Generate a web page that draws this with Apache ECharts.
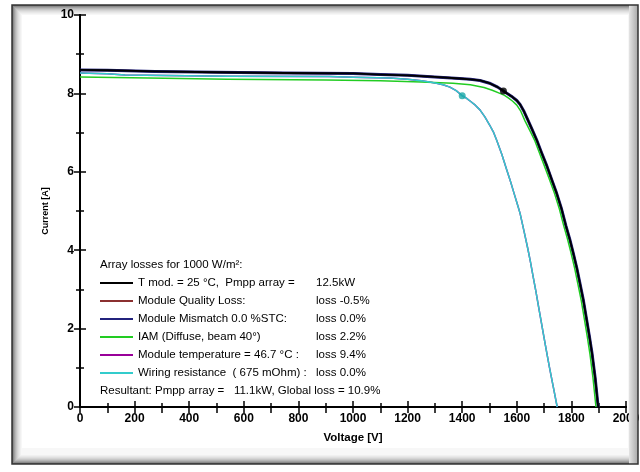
<!DOCTYPE html>
<html>
<head>
<meta charset="utf-8">
<script src="https://cdn.jsdelivr.net/npm/echarts@6/dist/echarts.min.js"></script>
<style>
html, body { margin: 0; padding: 0; background: #fff; }
#picture { width: 640px; height: 472px; }
</style>
</head>
<body>
<div id="picture"></div>
<script>
// I-V curves: [voltage V, current A]
var tmodCurve = [[0,8.60],[100,8.59],[275,8.56],[500,8.54],[750,8.52],[1000,8.51],[1100,8.48],[1200,8.46],[1300,8.42],[1390,8.38],[1430,8.36],[1465,8.33],[1500,8.26],[1530,8.16],[1551,8.06],[1580,7.93],[1600,7.82],[1612,7.72],[1625,7.56],[1640,7.33],[1656,7.08],[1673,6.81],[1690,6.50],[1710,6.15],[1728,5.80],[1746,5.45],[1764,5.05],[1780,4.62],[1794,4.28],[1807,3.92],[1820,3.54],[1830,3.20],[1844,2.72],[1856,2.22],[1866,1.80],[1876,1.35],[1887,0.75],[1898,0]];
var qualityCurve = tmodCurve;
var mismatchCurve = tmodCurve;
var iamCurve = [[0,8.42],[250,8.39],[540,8.36],[900,8.34],[1100,8.32],[1250,8.29],[1366,8.26],[1430,8.22],[1480,8.15],[1510,8.08],[1538,8.00],[1555,7.95],[1570,7.88],[1585,7.80],[1600,7.70],[1615,7.54],[1630,7.30],[1648,7.05],[1665,6.81],[1682,6.50],[1700,6.17],[1720,5.80],[1738,5.45],[1756,5.05],[1772,4.62],[1786,4.28],[1799,3.92],[1812,3.54],[1822,3.20],[1836,2.72],[1848,2.22],[1858,1.80],[1868,1.35],[1879,0.75],[1890,0]];
var wiringCurve = [[0,8.52],[100,8.50],[165,8.47],[540,8.44],[914,8.43],[1000,8.41],[1135,8.39],[1200,8.36],[1250,8.32],[1280,8.29],[1306,8.26],[1330,8.22],[1355,8.16],[1378,8.07],[1400,7.94],[1415,7.88],[1430,7.80],[1448,7.70],[1465,7.58],[1483,7.40],[1500,7.20],[1514,7.02],[1526,6.81],[1545,6.45],[1563,6.05],[1577,5.75],[1590,5.45],[1601,5.20],[1612,4.94],[1626,4.50],[1640,4.05],[1650,3.70],[1660,3.32],[1670,2.95],[1680,2.55],[1697,1.88],[1708,1.45],[1720,1.00],[1734,0.50],[1748,0]];
var tempCurve = wiringCurve;
var mppStc = [[1551,8.06]];
var mppWiring = [[1400,7.94]];

var seriesNames = ['T mod. = 25 °C,  Pmpp array =', 'Module Quality Loss:', 'Module Mismatch 0.0 %STC:', 'IAM (Diffuse, beam 40°)', 'Module temperature = 46.7 °C :', 'Wiring resistance  ( 675 mOhm) :'];
var lossLabels = ['12.5kW', 'loss -0.5%', 'loss 0.0%', 'loss 2.2%', 'loss 9.4%', 'loss 0.0%'];
var seriesColors = ['#000000', '#8b3030', '#23237d', '#22cc22', '#990099', '#33cccc'];
var headerText = 'Array losses for 1000 W/m²:';
var resultText = 'Resultant: Pmpp array =   11.1kW, Global loss = 10.9%';

var font = '"Liberation Sans", Arial, sans-serif';

function lineSeries(i, data, width, z) {
    return {
        name: seriesNames[i],
        type: 'line',
        data: data,
        symbol: 'none',
        smooth: false,
        z: z,
        itemStyle: { color: seriesColors[i] },
        lineStyle: { color: seriesColors[i], width: width, join: 'round' }
    };
}

function frameRects() {
    var shades = ['#6a6a6a', '#8a8a8a', '#a2a2a2', '#b6b6b6', '#c6c6c6', '#d4d4d4', '#dfdfdf', '#e8e8e8', '#f0f0f0', '#f7f7f7'];
    var els = [];
    for (var i = 0; i < shades.length; i++) {
        els.push({
            type: 'rect', z: -20 + i, silent: true,
            shape: { x: 12 + i, y: 5 + i, width: 626 - 2 * i, height: 459 - 2 * i },
            style: { fill: shades[i] }
        });
    }
    els.push({
        type: 'rect', z: -5, silent: true,
        shape: { x: 22, y: 15, width: 606, height: 433 },
        style: { fill: '#ffffff' }
    });
    return els;
}

var myChart = echarts.init(document.getElementById('picture'), null, { renderer: 'canvas' });
var axisLineStyle = { color: '#000', width: 2 };
var plainNumber = function (v) { return String(v); };
var option = {
    backgroundColor: '#ffffff',
    animation: false,
    grid: { left: 80, right: 14, top: 15, bottom: 65, outerBoundsMode: 'none' },
    legend: {
        orient: 'vertical',
        left: 100,
        top: 276,
        padding: 0,
        itemWidth: 33,
        itemHeight: 2,
        itemGap: 4,
        icon: 'rect',
        selectedMode: false,
        data: seriesNames,
        formatter: function (name) {
            return '{a|' + name + '}{b|' + lossLabels[seriesNames.indexOf(name)] + '}';
        },
        textStyle: {
            fontFamily: font, fontSize: 11.5, color: '#000', lineHeight: 14,
            rich: {
                a: { width: 178, fontFamily: font, fontSize: 11.5, color: '#000' },
                b: { fontFamily: font, fontSize: 11.5, color: '#000' }
            }
        }
    },
    xAxis: [{
        type: 'value', min: 0, max: 2000, interval: 200, position: 'bottom',
        name: 'Voltage [V]', nameLocation: 'middle', nameGap: 25,
        nameTextStyle: { fontFamily: font, fontSize: 11.5, fontWeight: 'bold', color: '#000' },
        axisLine: { show: true, lineStyle: axisLineStyle },
        axisTick: { show: true, inside: true, length: 6, lineStyle: { color: '#000', width: 1.5 } },
        minorTick: { show: true, splitNumber: 2, length: 4, lineStyle: { color: '#000', width: 1.5 } },
        axisLabel: { fontFamily: font, fontSize: 12, fontWeight: 'bold', color: '#000', margin: 6, formatter: plainNumber },
        splitLine: { show: false }
    }, {
        type: 'value', min: 0, max: 2000, interval: 200, position: 'top',
        axisLine: { show: true, lineStyle: axisLineStyle },
        axisTick: { show: true, inside: true, length: 6, lineStyle: { color: '#000', width: 1.5 } },
        minorTick: { show: true, splitNumber: 2, length: 6, lineStyle: { color: '#000', width: 1.5 } },
        axisLabel: { show: false },
        splitLine: { show: false }
    }],
    yAxis: [{
        type: 'value', min: 0, max: 10, interval: 2, position: 'left',
        name: 'Current [A]', nameLocation: 'middle', nameGap: 26, nameRotate: 90,
        nameTextStyle: { fontFamily: font, fontSize: 9, fontWeight: 'bold', color: '#000' },
        axisLine: { show: true, lineStyle: axisLineStyle },
        axisTick: { show: true, inside: true, length: 6, lineStyle: { color: '#000', width: 1.5 } },
        minorTick: { show: true, splitNumber: 2, length: 4, lineStyle: { color: '#000', width: 1.5 } },
        axisLabel: { fontFamily: font, fontSize: 12, fontWeight: 'bold', color: '#000', margin: 6, formatter: plainNumber },
        splitLine: { show: false }
    }, {
        type: 'value', min: 0, max: 10, interval: 2, position: 'right',
        axisLine: { show: true, lineStyle: axisLineStyle },
        axisTick: { show: true, inside: true, length: 6, lineStyle: { color: '#000', width: 1.5 } },
        minorTick: { show: true, splitNumber: 2, length: 4, lineStyle: { color: '#000', width: 1.5 } },
        axisLabel: { show: false },
        splitLine: { show: false }
    }],
    graphic: frameRects().concat([
        {
            type: 'text', x: 100, y: 265, z: 10, silent: true,
            style: { text: headerText, font: '11.5px ' + font, fill: '#000', verticalAlign: 'middle' }
        },
        {
            type: 'text', x: 100, y: 391, z: 10, silent: true,
            style: { text: resultText, font: '11.5px ' + font, fill: '#000', verticalAlign: 'middle' }
        },
        {
            type: 'rect', z: 100, silent: true,
            shape: { x: 629, y: 5, width: 9, height: 459 },
            style: { fill: new echarts.graphic.LinearGradient(0, 0, 1, 0, [
                { offset: 0, color: '#e4e4e4' }, { offset: 1, color: '#a8a8a8' }]) }
        },
        {
            type: 'rect', z: 101, silent: true,
            shape: { x: 12, y: 5, width: 626, height: 459 },
            style: { fill: 'none', stroke: '#333', lineWidth: 1.5 }
        }
    ]),
    series: [
        lineSeries(1, qualityCurve, 2, 2),
        lineSeries(2, mismatchCurve, 3, 3),
        lineSeries(0, tmodCurve, 1.8, 4),
        lineSeries(3, iamCurve, 1.5, 3),
        lineSeries(4, tempCurve, 1.5, 2),
        lineSeries(5, wiringCurve, 1.5, 3),
        {
            type: 'scatter', data: mppStc, symbol: 'circle', symbolSize: 7, z: 6,
            itemStyle: { color: '#000' }
        },
        {
            type: 'scatter', data: mppWiring, symbol: 'circle', symbolSize: 7, z: 6,
            itemStyle: { color: '#1aa8a8' }
        }
    ]
};
myChart.setOption(option);
</script>
</body>
</html>
